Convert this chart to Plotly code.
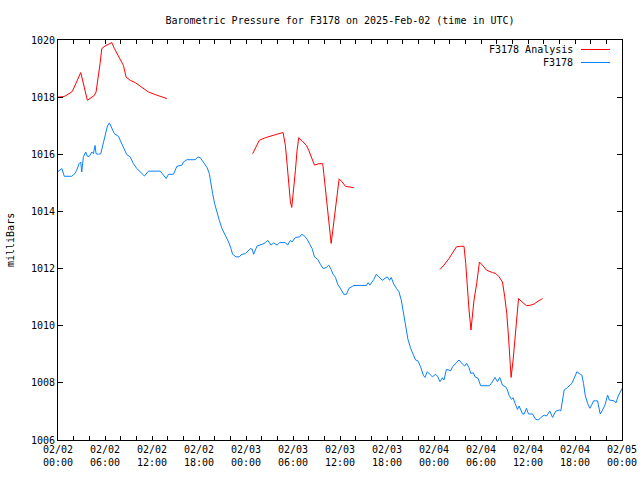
import pandas as pd
import plotly.graph_objects as go

BASE = "2025-02-02 00:00"

# Observed station pressure (hours after BASE, milliBars)
obs_hours = [0.0, 0.5, 0.8, 1.75, 2.17, 2.39, 2.69, 2.90, 3.03, 3.24, 3.54, 3.75, 4.00, 4.31, 4.52,
             4.73, 4.86, 5.16, 5.46, 5.80, 6.10, 6.31, 6.56, 6.87, 7.20, 7.71, 8.14, 8.57, 8.78,
             9.21, 9.63, 10.06, 10.49, 11.04, 11.55, 13.04, 13.47, 13.81, 14.10, 14.74, 15.18,
             15.82, 16.02, 16.46, 17.52, 17.86, 18.16, 18.58, 19.02, 19.31, 19.57, 19.74, 19.99,
             20.29, 20.59, 20.93, 21.36, 21.78, 22.08, 22.29, 22.72, 23.15, 23.40, 23.91, 24.55,
             24.80, 24.97, 25.41, 26.05, 26.47, 26.77, 27.20, 27.53, 27.96, 28.30, 29.03, 29.32,
             29.67, 29.88, 30.31, 30.86, 31.07, 31.37, 31.80, 32.14, 32.44, 32.74, 33.16, 33.50,
             33.85, 34.27, 34.57, 34.87, 35.12, 35.42, 35.71, 36.06, 36.48, 36.83, 37.12, 37.76,
             39.39, 39.60, 39.81, 40.32, 40.63, 40.96, 41.39, 42.03, 42.33, 42.54, 42.88, 43.22,
             43.52, 43.82, 44.08, 44.37, 44.67, 45.01, 45.36, 45.65, 45.95, 46.29, 46.64, 46.84,
             47.15, 47.57, 47.79, 48.21, 48.50, 48.76, 49.07, 49.27, 49.58, 49.91, 50.13, 50.35,
             50.77, 51.19, 51.62, 51.92, 52.17, 52.47, 52.69, 53.03, 53.24, 53.62, 53.96, 55.03,
             55.33, 55.79, 56.10, 56.39, 56.74, 57.16, 57.38, 57.58, 57.89, 58.10, 58.35, 58.66,
             58.86, 59.08, 59.30, 59.50, 59.81, 60.06, 60.57, 60.99, 61.34, 61.64, 62.06, 62.36,
             62.79, 63.13, 63.55, 63.98, 64.19, 64.41, 64.62, 65.05, 65.60, 65.89, 66.24, 66.53,
             66.88, 67.09, 67.30, 67.61, 67.90, 68.12, 68.37, 68.88, 69.01, 69.22, 69.52, 69.82,
             70.17, 70.37, 71.01, 71.23, 71.52, 71.78, 72.00]
obs_mb = [1015.40, 1015.50, 1015.23, 1015.23, 1015.33, 1015.44, 1015.67, 1015.73, 1015.38, 1015.91,
          1016.08, 1015.93, 1015.93, 1016.08, 1016.02, 1016.31, 1016.02, 1016.00, 1016.02, 1016.37,
          1016.72, 1016.99, 1017.10, 1016.90, 1016.72, 1016.63, 1016.37, 1016.08, 1015.99, 1015.91,
          1015.67, 1015.50, 1015.38, 1015.24, 1015.41, 1015.41, 1015.27, 1015.15, 1015.30, 1015.30,
          1015.58, 1015.62, 1015.73, 1015.81, 1015.81, 1015.91, 1015.88, 1015.70, 1015.54, 1015.33,
          1014.98, 1014.63, 1014.28, 1013.93, 1013.69, 1013.40, 1013.17, 1012.93, 1012.70, 1012.50,
          1012.41, 1012.41, 1012.49, 1012.52, 1012.70, 1012.68, 1012.50, 1012.79, 1012.85, 1012.90,
          1012.99, 1012.82, 1012.90, 1012.82, 1012.91, 1012.91, 1012.82, 1012.99, 1012.93, 1013.09,
          1013.11, 1013.19, 1013.17, 1013.03, 1012.85, 1012.70, 1012.41, 1012.32, 1012.15, 1012.00,
          1012.04, 1012.12, 1011.97, 1011.80, 1011.69, 1011.45, 1011.30, 1011.10, 1011.10, 1011.30,
          1011.41, 1011.41, 1011.51, 1011.42, 1011.62, 1011.80, 1011.71, 1011.59, 1011.71, 1011.59,
          1011.69, 1011.45, 1011.30, 1011.19, 1010.90, 1010.50, 1010.02, 1009.53, 1009.21, 1008.97,
          1008.80, 1008.77, 1008.56, 1008.27, 1008.19, 1008.39, 1008.27, 1008.21, 1008.30, 1008.21,
          1008.04, 1008.18, 1008.10, 1008.47, 1008.45, 1008.42, 1008.56, 1008.70, 1008.80, 1008.66,
          1008.59, 1008.68, 1008.53, 1008.33, 1008.35, 1008.21, 1008.16, 1007.90, 1007.90, 1007.98,
          1008.19, 1008.04, 1008.19, 1007.92, 1007.86, 1007.75, 1007.57, 1007.42, 1007.48, 1007.28,
          1007.07, 1007.19, 1007.02, 1006.91, 1006.91, 1007.11, 1006.91, 1006.91, 1006.72, 1006.70,
          1006.79, 1006.87, 1006.84, 1007.01, 1006.79, 1007.01, 1007.05, 1007.02, 1007.40, 1007.75,
          1007.84, 1007.98, 1008.16, 1008.39, 1008.33, 1008.27, 1007.98, 1007.57, 1007.28, 1007.11,
          1007.22, 1007.37, 1007.37, 1007.22, 1006.91, 1007.05, 1007.22, 1007.57, 1007.40, 1007.37,
          1007.30, 1007.54, 1007.71, 1007.80]

# Analysis pressure, three separate runs
ana1_hours = [0.0, 0.77, 1.53, 1.83, 2.90, 3.75, 4.64, 4.86, 5.37, 5.59, 6.01, 6.56, 6.87, 7.20,
              7.71, 8.35, 8.70, 9.21, 9.85, 10.70, 11.55, 12.40, 13.26, 13.90]
ana1_mb = [1018.00, 1018.02, 1018.14, 1018.20, 1018.86, 1017.89, 1018.06, 1018.18, 1019.17, 1019.70,
           1019.79, 1019.87, 1019.91, 1019.70, 1019.46, 1019.11, 1018.70, 1018.59, 1018.51, 1018.33,
           1018.18, 1018.09, 1018.02, 1017.95]
ana2_hours = [24.85, 25.19, 25.70, 26.47, 27.11, 27.75, 28.17, 28.73, 29.03, 29.24, 29.45, 29.67,
              29.84, 30.09, 30.31, 30.52, 30.73, 31.16, 31.71, 32.01, 32.35, 32.74, 33.29, 33.80,
              33.93, 34.36, 34.57, 34.87, 35.08, 35.33, 35.55, 35.89, 36.28, 36.70, 37.12, 37.76]
ana2_mb = [1016.02, 1016.20, 1016.49, 1016.58, 1016.64, 1016.70, 1016.72, 1016.76, 1016.31, 1015.67,
           1014.97, 1014.33, 1014.14, 1014.74, 1015.44, 1016.14, 1016.58, 1016.47, 1016.31, 1016.14,
           1015.91, 1015.62, 1015.67, 1015.67, 1015.33, 1014.16, 1013.46, 1012.88, 1013.34, 1013.93,
           1014.39, 1015.14, 1015.03, 1014.88, 1014.86, 1014.83]
ana3_hours = [48.76, 49.27, 49.91, 50.42, 50.86, 51.41, 51.83, 52.05, 52.26, 52.47, 52.72, 52.90,
              53.11, 53.45, 53.80, 54.18, 54.73, 55.46, 55.88, 56.31, 56.74, 57.03, 57.29, 57.51,
              57.71, 57.84, 58.10, 58.35, 58.53, 58.79, 59.21, 59.81, 60.36, 60.78, 61.29, 61.86]
ana3_mb = [1011.97, 1012.12, 1012.35, 1012.56, 1012.76, 1012.78, 1012.78, 1012.18, 1011.30, 1010.55,
           1009.85, 1010.31, 1010.90, 1011.48, 1012.23, 1012.12, 1011.94, 1011.86, 1011.83, 1011.71,
           1011.53, 1011.01, 1010.43, 1009.61, 1008.80, 1008.19, 1008.80, 1009.61, 1010.31, 1010.95,
           1010.84, 1010.70, 1010.72, 1010.76, 1010.86, 1010.95]

tick_hours = [0, 6, 12, 18, 24, 30, 36, 42, 48, 54, 60, 66, 72]
tick_labels = ["02/02<br>00:00", "02/02<br>06:00", "02/02<br>12:00", "02/02<br>18:00",
               "02/03<br>00:00", "02/03<br>06:00", "02/03<br>12:00", "02/03<br>18:00",
               "02/04<br>00:00", "02/04<br>06:00", "02/04<br>12:00", "02/04<br>18:00",
               "02/05<br>00:00"]
y_ticks = [1006, 1008, 1010, 1012, 1014, 1016, 1018, 1020]

RED = "#ff0000"
BLUE = "#0a80ff"
FONT = "DejaVu Sans Mono"

W, H = 640, 480
ML, MR, MT, MB = 58, 18, 40, 40
PW = W - ML - MR
PH = H - MT - MB

base = pd.Timestamp(BASE)


def to_time(hours):
    return [base + pd.Timedelta(hours=h) for h in hours]


fig = go.Figure()
for hrs, vals in [(ana1_hours, ana1_mb), (ana2_hours, ana2_mb), (ana3_hours, ana3_mb)]:
    fig.add_trace(go.Scatter(x=to_time(hrs), y=vals, mode="lines", name="F3178 Analysis",
                             line=dict(color=RED, width=1), showlegend=False))
fig.add_trace(go.Scatter(x=to_time(obs_hours), y=obs_mb, mode="lines", name="F3178",
                         line=dict(color=BLUE, width=1), showlegend=False))

fig.update_layout(
    width=W, height=H,
    margin=dict(l=ML, r=MR, t=MT, b=MB, autoexpand=False),
    paper_bgcolor="white", plot_bgcolor="white",
    font=dict(family=FONT, size=10, color="black"),
    title=dict(text="Barometric Pressure for F3178 on 2025-Feb-02 (time in UTC)",
               x=0.5, xref="paper", xanchor="center", y=1 - 20 / H, yanchor="middle",
               font=dict(family=FONT, size=10, color="black")),
    showlegend=False,
    hovermode=False,
)
fig.update_xaxes(
    range=[base, base + pd.Timedelta(hours=72)],
    tickvals=to_time(tick_hours), ticktext=tick_labels,
    ticks="inside", ticklen=4, tickcolor="black", tickwidth=1,
    minor=dict(dtick=2 * 3600 * 1000, ticks="inside", ticklen=4, tickcolor="black", showgrid=False),
    showline=True, linecolor="black", linewidth=1, mirror="ticks",
    showgrid=False, zeroline=False, automargin=False,
    ticklabeloverflow="allow",
    tickfont=dict(family=FONT, size=10, color="black"),
)
fig.update_yaxes(
    range=[1006, 1020], tickvals=y_ticks,
    ticks="inside", ticklen=5, tickcolor="black", tickwidth=1,
    showline=True, linecolor="black", linewidth=1, mirror="ticks",
    showgrid=False, zeroline=False, automargin=False,
    tickfont=dict(family=FONT, size=10, color="black"),
)

# y-axis caption
fig.add_annotation(text="milliBars", xref="paper", yref="paper", x=0, y=0.5,
                   xanchor="center", yanchor="middle",
                   xshift=-48, textangle=-90, showarrow=False,
                   font=dict(family=FONT, size=10, color="black"))

# gnuplot-style key (text right-aligned, sample line to its right)
key = [("F3178 Analysis", RED, 49.5), ("F3178", BLUE, 62.5)]
for label, col, ypix in key:
    yk = 1 - (ypix - MT) / PH
    fig.add_annotation(text=label, xref="paper", yref="paper", x=(575 - ML) / PW, y=yk,
                       xanchor="right", yanchor="middle", showarrow=False,
                       font=dict(family=FONT, size=10, color="black"))
    fig.add_shape(type="line", xref="paper", yref="paper",
                  x0=(581 - ML) / PW, x1=(610 - ML) / PW, y0=yk, y1=yk,
                  line=dict(color=col, width=1))

# remove the browser's default 8px page margin so the 640x480 figure fills the window
fig.write_html("out.html", config={"displayModeBar": False, "staticPlot": True},
               post_script="document.body.style.margin='0';")
